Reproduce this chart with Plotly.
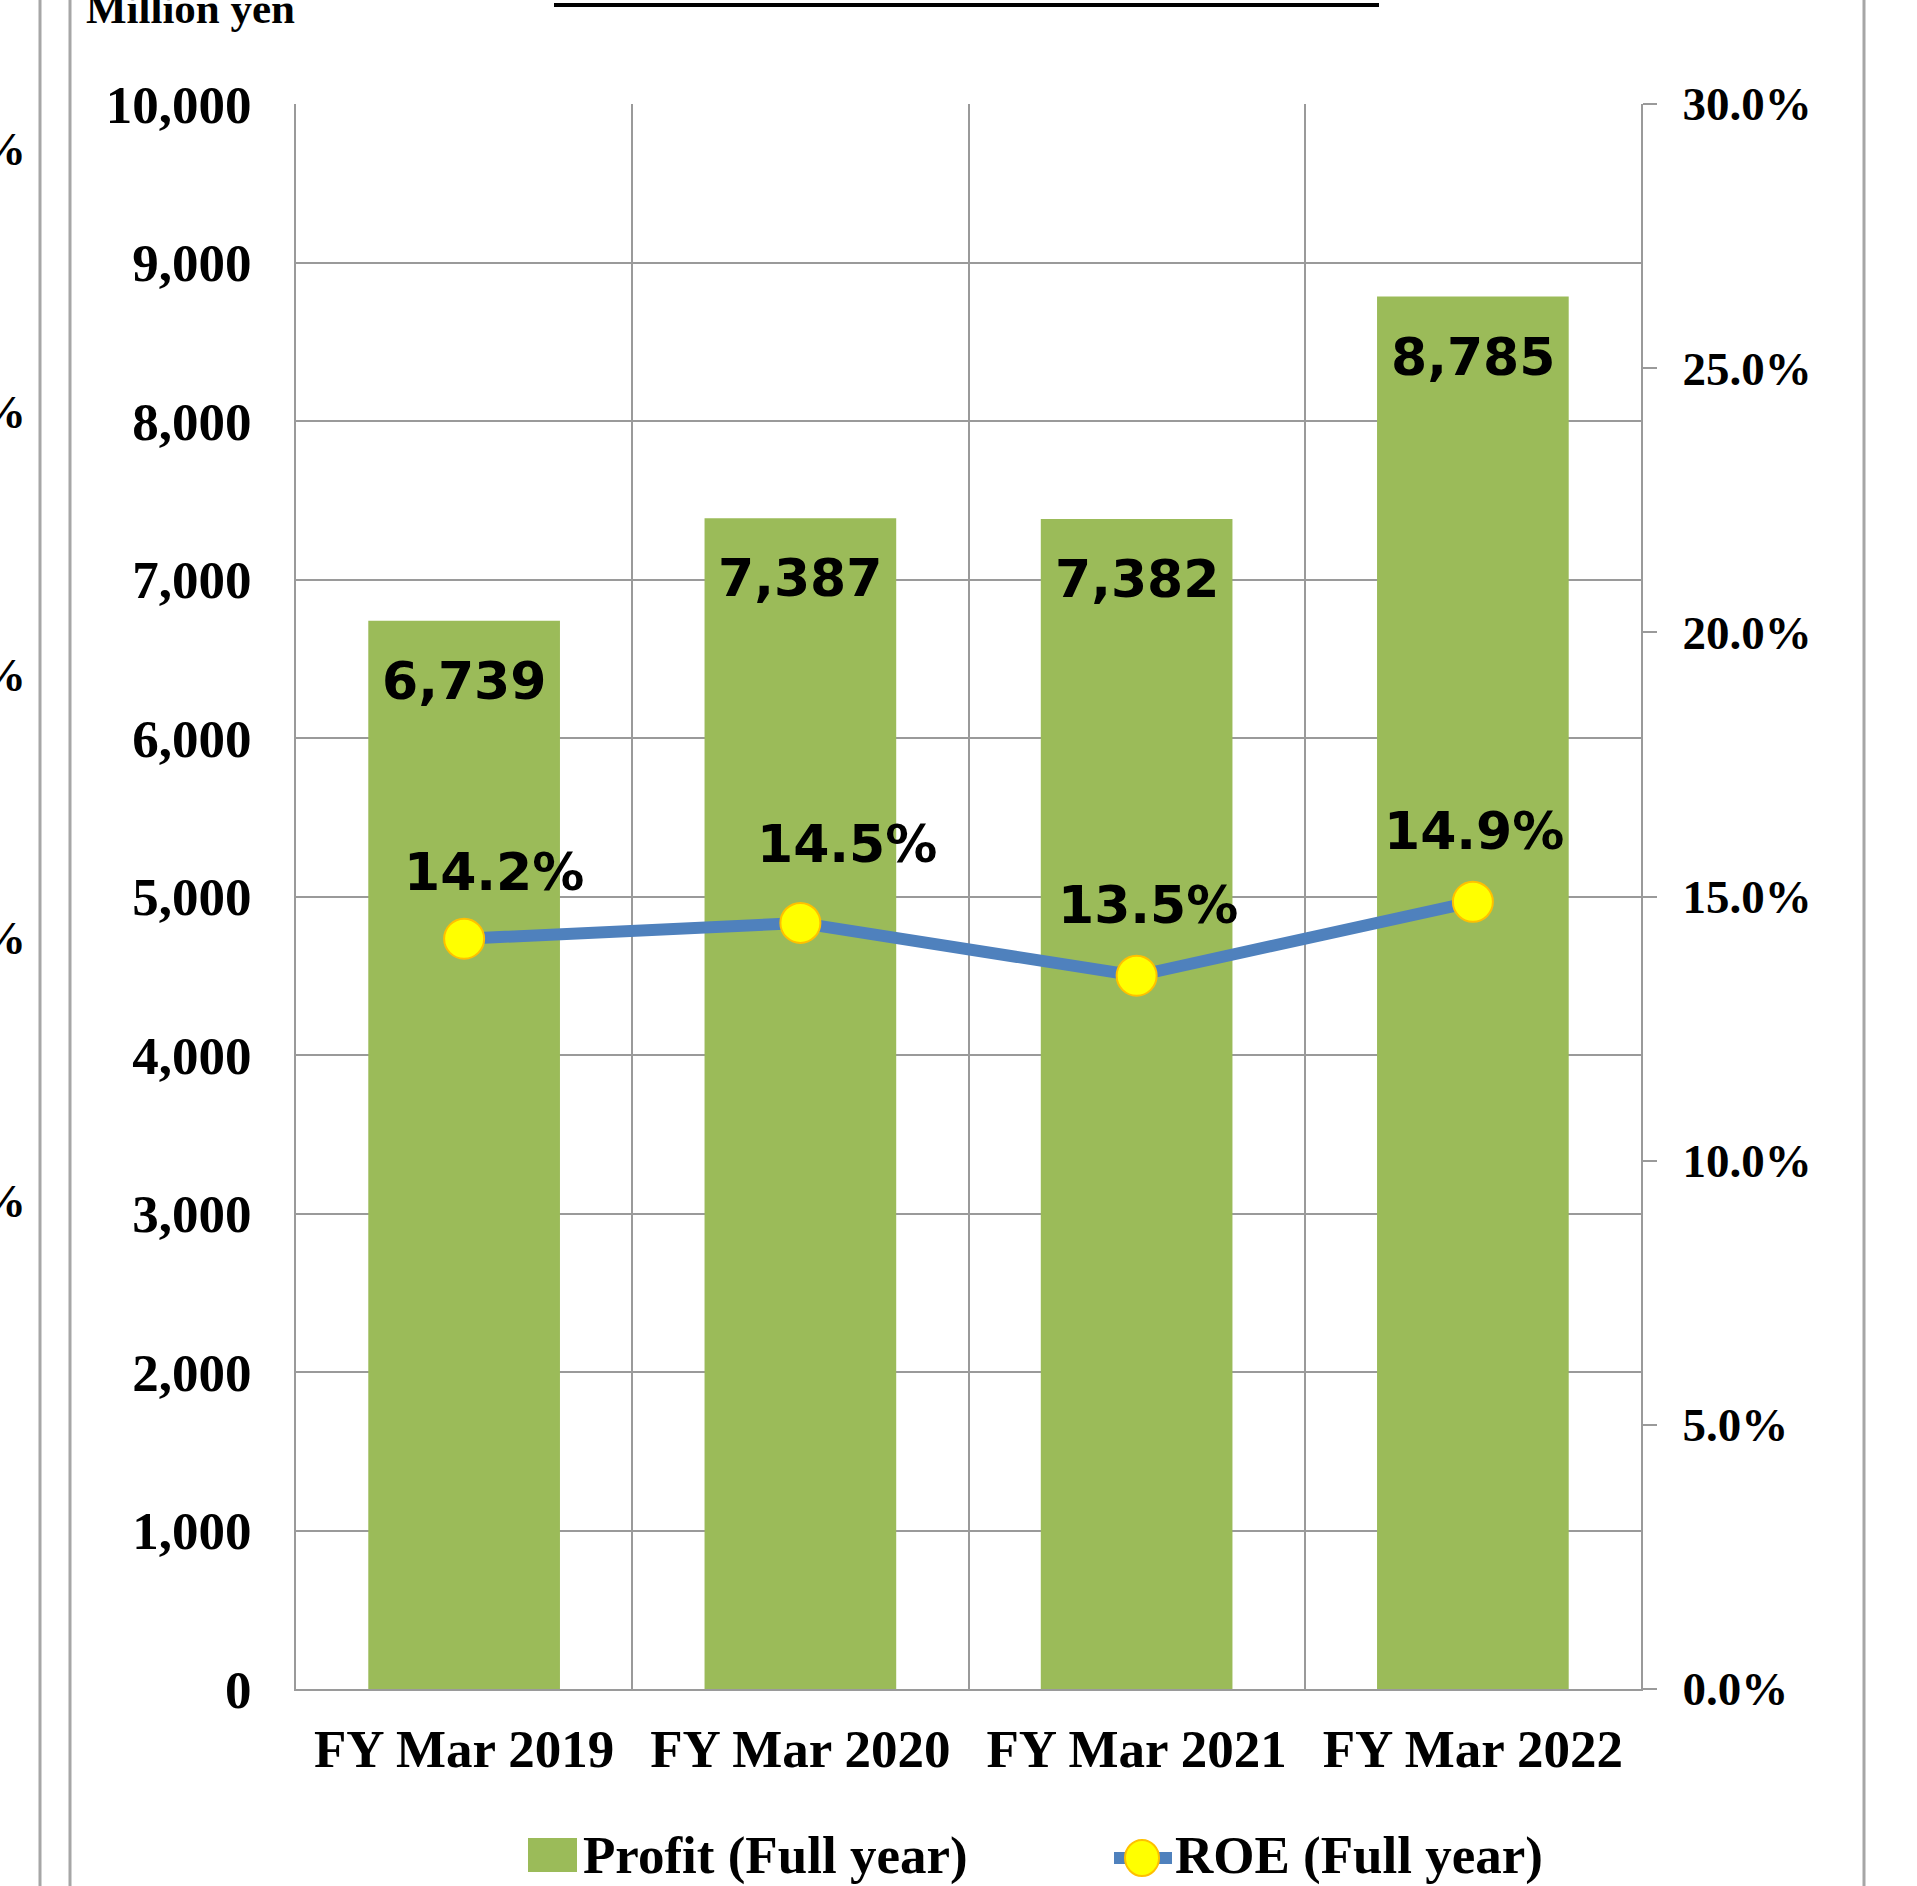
import plotly.graph_objects as go

# ---------------- data ----------------
categories = ["FY Mar 2019", "FY Mar 2020", "FY Mar 2021", "FY Mar 2022"]
profit = [6739, 7387, 7382, 8785]
roe = [14.2, 14.5, 13.5, 14.9]
profit_labels = ["6,739", "7,387", "7,382", "8,785"]
roe_labels = ["14.2%", "14.5%", "13.5%", "14.9%"]
series_names = ["Profit (Full year)", "ROE (Full year)"]
left_unit = "Million yen"

# label offsets (pixels) as placed in the original chart
roe_label_dx = [30, 47, 11, 1]
roe_label_dy = [67, 79, 71, 71]

# ---------------- geometry ----------------
W, H = 1917, 1886
L, R, T, B = 296, 1641, 104, 1689  # plot area in pixels


def px(x):
    return (x - L) / (R - L)


def py(y):
    return (B - y) / (B - T)


GREEN = "#9BBB59"
BLUE = "#4F81BD"
GRID = "#9A9A9A"
SERIF = "Liberation Serif"
SANS = "DejaVu Sans"

fig = go.Figure()
fig.add_trace(go.Bar(
    x=categories, y=profit, name=series_names[0],
    marker=dict(color=GREEN, line=dict(width=0)),
    width=0.57, showlegend=False, yaxis="y",
))
fig.add_trace(go.Scatter(
    x=categories, y=roe, name=series_names[1], mode="lines+markers",
    line=dict(color=BLUE, width=12),
    marker=dict(size=40, color="#FFFF00", line=dict(color="#FFC000", width=2)),
    showlegend=False, yaxis="y2",
))

annotations = []
for c, v, t in zip(categories, profit, profit_labels):
    annotations.append(dict(
        x=c, y=v, xref="x", yref="y", text=t, showarrow=False,
        xanchor="center", yanchor="middle", yshift=-60,
        font=dict(family=SANS, size=52, color="black", weight="bold"),
    ))
for c, v, t, dx, dy in zip(categories, roe, roe_labels, roe_label_dx, roe_label_dy):
    annotations.append(dict(
        x=c, y=v, xref="x", yref="y2", text=t, showarrow=False,
        xanchor="center", yanchor="middle", xshift=dx, yshift=dy,
        font=dict(family=SANS, size=52, color="black", weight="bold"),
    ))

# unit label at top-left
annotations.append(dict(
    x=px(84), y=py(8), xref="paper", yref="paper", text=left_unit,
    showarrow=False, xanchor="left", yanchor="middle",
    font=dict(family=SERIF, size=43, color="black", weight="bold"),
))

# clipped axis labels from neighbouring chart on the left edge
for yy in [149, 412, 675, 938, 1201]:
    annotations.append(dict(
        x=px(28), y=py(yy), xref="paper", yref="paper", text="%",
        showarrow=False, xanchor="right", yanchor="middle",
        font=dict(family=SERIF, size=47, color="black", weight="bold"),
    ))

# legend texts
annotations.append(dict(
    x=px(581), y=py(1855), xref="paper", yref="paper", text=series_names[0],
    showarrow=False, xanchor="left", yanchor="middle",
    font=dict(family=SERIF, size=53, color="black", weight="bold"),
))
annotations.append(dict(
    x=px(1173), y=py(1855), xref="paper", yref="paper", text=series_names[1],
    showarrow=False, xanchor="left", yanchor="middle",
    font=dict(family=SERIF, size=53, color="black", weight="bold"),
))

shapes = [
    # frame lines of the surrounding page
    dict(type="line", xref="paper", yref="paper", x0=px(40), x1=px(40), y0=py(0), y1=py(H),
         line=dict(color="#A6A6A6", width=3)),
    dict(type="line", xref="paper", yref="paper", x0=px(70), x1=px(70), y0=py(0), y1=py(H),
         line=dict(color="#A6A6A6", width=3)),
    dict(type="line", xref="paper", yref="paper", x0=px(1864), x1=px(1864), y0=py(0), y1=py(H),
         line=dict(color="#A6A6A6", width=3)),
    # title underline (clipped title above)
    dict(type="line", xref="paper", yref="paper", x0=px(554), x1=px(1379), y0=py(5), y1=py(5),
         line=dict(color="black", width=4)),
    # legend symbols
    dict(type="rect", xref="paper", yref="paper", x0=px(528), x1=px(577), y0=py(1872), y1=py(1838),
         line=dict(width=0), fillcolor=GREEN),
    dict(type="line", xref="paper", yref="paper", x0=px(1114), x1=px(1172), y0=py(1858), y1=py(1858),
         line=dict(color=BLUE, width=12)),
    dict(type="circle", xref="paper", yref="paper", x0=px(1125), x1=px(1159), y0=py(1876), y1=py(1840),
         line=dict(color="#FFC000", width=2), fillcolor="#FFFF00"),
]

fig.update_layout(
    width=W, height=H, autosize=False,
    margin=dict(l=L, r=W - R, t=T, b=H - B, pad=0),
    paper_bgcolor="white", plot_bgcolor="white",
    font=dict(family=SERIF, size=53, color="black", weight="bold"),
    showlegend=False,
    bargap=0.43,
    xaxis=dict(
        type="category", showgrid=True, gridcolor=GRID, gridwidth=2,
        tickson="boundaries", ticks="", showline=True, linecolor=GRID, linewidth=2,
        tickfont=dict(family=SERIF, size=53, color="black", weight="bold"),
        ticklabelstandoff=12, zeroline=False,
    ),
    yaxis=dict(
        range=[0, 10000], dtick=1000, tickformat=",d", showgrid=True,
        gridcolor=GRID, gridwidth=2, showline=True, linecolor=GRID, linewidth=2,
        ticks="", zeroline=False,
        tickfont=dict(family=SERIF, size=53, color="black", weight="bold"),
        ticklabelstandoff=32,
    ),
    yaxis2=dict(
        range=[0, 30], dtick=5, tickformat=".1f", ticksuffix="%",
        overlaying="y", side="right", showgrid=False, zeroline=False,
        showline=True, linecolor=GRID, linewidth=2,
        ticks="outside", ticklen=14, tickwidth=2, tickcolor=GRID,
        tickfont=dict(family=SERIF, size=47, color="black", weight="bold"),
        ticklabelstandoff=16,
    ),
    annotations=annotations,
    shapes=shapes,
)

fig.write_html("out.html")
